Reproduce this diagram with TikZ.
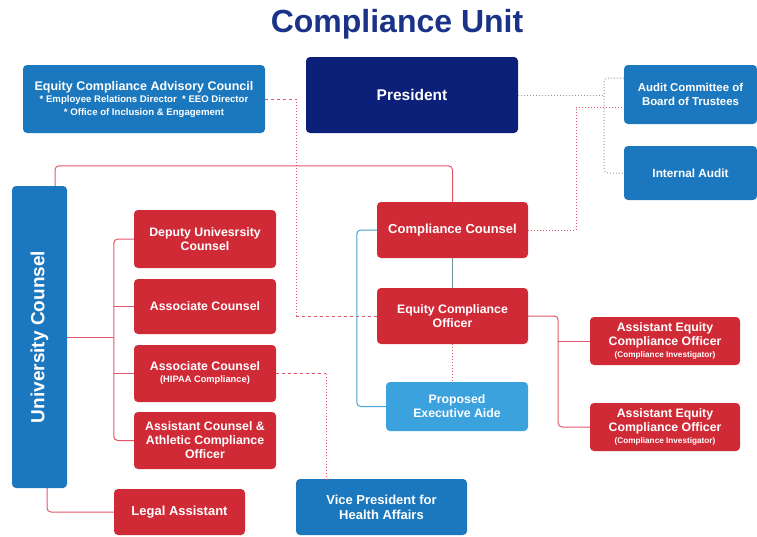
\documentclass[tikz,border=0pt]{standalone}
\usepackage{fontspec}
\setmainfont{Liberation Sans}
\usetikzlibrary{calc}
\definecolor{navy}{HTML}{0C1F79}
\definecolor{titleblue}{HTML}{1A3388}
\definecolor{ured}{HTML}{D12A37}
\definecolor{ublue}{HTML}{1C78BE}
\definecolor{lblue}{HTML}{3CA2DE}
\definecolor{redln}{HTML}{E2566A}
\definecolor{blueln}{HTML}{4AA3D4}
\definecolor{steelln}{HTML}{6E8E98}
\definecolor{grayln}{HTML}{8A9DAE}
\newcommand{\fs}[2]{\fontsize{#1}{#2}\selectfont}
\begin{document}
\begin{tikzpicture}[x=1pt,y=1pt,
  box/.style={rounded corners=4pt, text=white, align=center, inner sep=0pt,
    font=\bfseries\fs{12.3}{14}},
  sz/.style 2 args={minimum width=#1pt, minimum height=#2pt},
  redbox/.style={box, fill=ured},
  bluebox/.style={box, fill=ublue},
  navybox/.style={box, fill=navy},
  lightbox/.style={box, fill=lblue},
  redline/.style={draw=redln, line width=1pt, rounded corners=4pt},
  reddash/.style={draw=redln, line width=1pt, dash pattern=on 3pt off 3pt},
  reddot/.style={draw=redln, line width=1pt, dash pattern=on 1pt off 2pt},
  blueline/.style={draw=blueln, line width=1pt, rounded corners=4pt},
  steelline/.style={draw=steelln, line width=1pt},
  graydot/.style={draw=grayln, line width=1pt, dash pattern=on 1pt off 2pt, rounded corners=4pt},
]
\useasboundingbox (0,0) rectangle (757,-536);

% title
\node[text=titleblue, font=\bfseries\fs{32}{36}] (title) at (397,-24) {Compliance Unit};

% top row
\node[bluebox, sz={242}{68}] (ecac) at (144,-99)
  {{\fs{12.5}{15}Equity Compliance Advisory Council}\\[-2pt]
   {\fs{9.6}{11}* Employee Relations Director\ \ * EEO Director}\\[-1pt]
   {\fs{9.6}{11}* Office of Inclusion \& Engagement}};
\node[navybox, sz={212}{76}, font=\bfseries\fs{15.5}{18}] (pres) at (412,-95) {President};
\node[bluebox, sz={133}{59}, font=\bfseries\fs{11.4}{13.5}] (audit) at (690.5,-94.5)
  {Audit Committee of\\Board of Trustees};
\node[bluebox, sz={133}{54}, font=\bfseries\fs{11.8}{14}] (ia) at (690.5,-173) {Internal Audit};

% university counsel column
\node[bluebox, sz={55}{302}] (uc) at (39.5,-337) {};
\node[rotate=90, text=white, font=\bfseries\fs{19}{22}] (uclabel) at (uc.center) {University Counsel};
\node[redbox, sz={142}{58}] (duc) at (205,-239) {Deputy Univesrsity\\Counsel};
\node[redbox, sz={142}{55}] (ac) at (205,-306.5) {Associate Counsel};
\node[redbox, sz={142}{57}] (hipaa) at (205,-373.5)
  {Associate Counsel\\[-2pt]{\fs{9.3}{11}(HIPAA Compliance)}};
\node[redbox, sz={142}{57}] (acac) at (205,-440.5)
  {Assistant Counsel \&\\Athletic Compliance\\Officer};
\node[redbox, sz={131}{46}, font=\bfseries\fs{13}{15}] (la) at (179.5,-512) {Legal Assistant};

% compliance column
\node[redbox, sz={151}{56}, font=\bfseries\fs{13}{15}] (cc) at (452.5,-230) {Compliance Counsel};
\node[redbox, sz={151}{56}] (eco) at (452.5,-316) {Equity Compliance\\Officer};
\node[lightbox, sz={142}{49}] (pea) at (457,-406.5) {Proposed\\Executive Aide};
\node[bluebox, sz={171}{56}, font=\bfseries\fs{13}{15}] (vp) at (381.5,-507)
  {Vice President for\\Health Affairs};
\node[redbox, sz={150}{48}] (aeco1) at (665,-341)
  {Assistant Equity\\Compliance Officer\\[-2pt]{\fs{8.2}{9}(Compliance Investigator)}};
\node[redbox, sz={150}{48}] (aeco2) at (665,-427)
  {Assistant Equity\\Compliance Officer\\[-2pt]{\fs{8.2}{9}(Compliance Investigator)}};

% university counsel links
\path[redline] ([xshift=15.5pt]uc.north) -- ++(0,20) -| (cc.north);
\path[redline] (uc.east) -- ++(47,0);
\path[redline] (duc.west) -- ++(-20,0) |- (acac.west);
\path[redline] (ac.west) -- ++(-20,0);
\path[redline] (hipaa.west) -- ++(-20,0);
\path[redline] ([xshift=7.5pt]uc.south) |- (la.west);

% advisory council to equity compliance officer
\coordinate (e1) at ([xshift=31pt]ecac.east);
\coordinate (e2) at (e1 |- eco.west);
\path[reddash] (ecac.east) -- (e1);
\path[reddot] (e1) -- (e2);
\path[reddash] (e2) -- (eco.west);

% president to audit bodies
\coordinate (g1) at (604,-78);
\coordinate (g2) at (604,-173);
\path[graydot] (pres.east) -- (pres.east -| g1);
\path[graydot] (audit.west |- g1) -- (g1) -- (g2) -- (ia.west);

% compliance counsel to audit committee
\coordinate (r1) at (576,-107);
\path[reddot] (cc.east) -| (r1) -- (audit.west |- r1);

% compliance counsel reports
\path[steelline] (cc.south) -- (eco.north);
\path[blueline] (cc.west) -- ++(-20,0) |- (pea.west);
\path[reddot] (eco.south) -- (eco.south |- pea.north);
\path[redline] (eco.east) -- ++(30,0) |- (aeco2.west);
\path[redline] (aeco1.west) -- ++(-32,0);

% HIPAA counsel to vice president
\coordinate (h1) at (326,-373.5);
\path[reddash] (hipaa.east) -- (h1);
\path[reddot] (h1) -- (h1 |- vp.north);
\end{tikzpicture}
\end{document}
